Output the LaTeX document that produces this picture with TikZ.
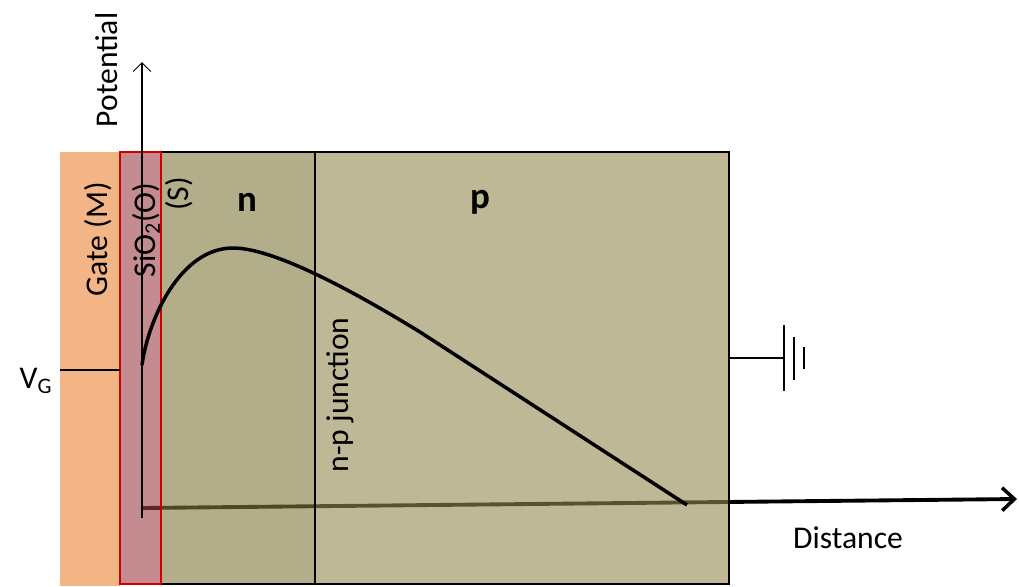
\documentclass[tikz,border=0pt]{standalone}
\usepackage{fontspec}
\setmainfont{Carlito}
\usetikzlibrary{arrows.meta}
\definecolor{gate}{RGB}{243,181,134}
\definecolor{oxide}{RGB}{157,63,72}
\definecolor{ntype}{RGB}{128,120,60}
\definecolor{ptype}{RGB}{147,137,80}
\definecolor{oxred}{RGB}{204,0,0}
\tikzset{
  region/.style={fill opacity=0.6},
  txt/.style={font=\fontsize{18}{20}\selectfont, inner sep=0pt},
  vtxt/.style={txt, rotate=90},
  dope/.style={font=\fontsize{21}{24}\selectfont\bfseries, inner sep=0pt},
  wire/.style={line width=0.8pt}
}

\begin{document}
\begin{tikzpicture}[x=0.02cm, y=-0.02cm]
\useasboundingbox (0,0) rectangle (1019,586);

% AXES
\coordinate (O) at (142,508);
\coordinate (X) at (1017,499);
\coordinate (Ob) at (142,518);
\coordinate (Y) at (142,62);
% distance axis goes under the layers
\draw[line width=2.2pt, -{Straight Barb[length=7pt,width=13pt,line width=2pt]}] (O) -- (X);

% LAYERS
% gate metal
\fill[gate] (60,152) rectangle (120,586);
% oxide, n and p regions
\fill[oxide, region] (120,152) rectangle (161,584);
\fill[ntype, region] (161,152) rectangle (315,584);
\fill[ptype, region] (315,152) rectangle (729,584);
% outline
\draw[line width=1.6pt] (161,152) -- (729,152) -- (729,584) -- (161,584);
% junction
\draw[line width=1pt] (315,152) -- (315,584);
\draw[oxred, line width=1.5pt] (120,152) rectangle (161,584);

% potential axis
\draw[line width=0.6pt, -{Straight Barb[length=5pt,width=10pt]}] (Ob) -- (Y);

% POTENTIAL PROFILE
\draw[line width=2pt, line join=round] (142,365)
  .. controls (148,320) and (180,248) .. (233,248)
  .. controls (270,248) and (340,283) .. (420,332) -- (687,505);

% CONTACTS
% gate voltage
\coordinate (vgl) at (60,370);
\coordinate (vgr) at (120,370);
\draw[wire] (vgl) -- (vgr);
% ground
\coordinate (sub) at (729,358);
\coordinate (gnd) at (784,358);
\draw[wire] (sub) -- (gnd);
\draw[wire] (784,325) -- (784,391);
\draw[wire] (794,337) -- (794,380);
\draw[wire] (804,347) -- (804,369);

% LABELS
\node[vtxt] (pot) at (107,70) {Potential};
\node[vtxt] (gatelbl) at (98,239) {Gate (M)};
\node[vtxt] (oxlbl) at (146,230) {SiO\textsubscript{2}(O)};
\node[vtxt] (slbl) at (179,194) {(S)};
\node[dope] (nlbl) at (247,202) {n};
\node[dope] (plbl) at (480,202) {p};
\node[vtxt] (jlbl) at (340,395) {n-p junction};
\node[txt] (dist) at (848,538) {Distance};
\node[txt] (vg) at (36,381) {V\textsubscript{G}};

\end{tikzpicture}
\end{document}
